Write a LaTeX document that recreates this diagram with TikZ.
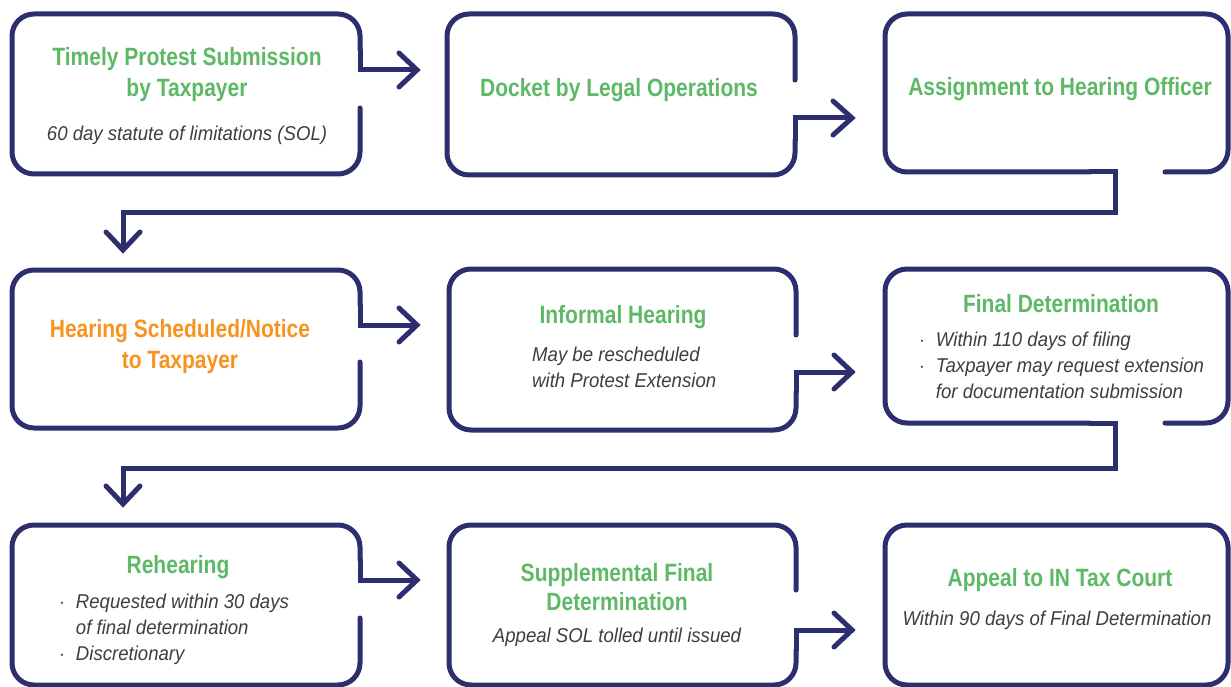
\documentclass[tikz,border=0pt]{standalone}
\usepackage{fontspec}
\setmainfont{Liberation Sans}
\newfontfamily\tfont{Liberation Sans}[FakeStretch=0.84]
\newfontfamily\ifont{Liberation Sans}[FakeStretch=0.93]
\definecolor{navy}{RGB}{44,46,110}
\definecolor{tgreen}{RGB}{94,185,102}
\definecolor{torange}{RGB}{247,148,29}
\definecolor{tgray}{RGB}{62,62,66}
\begin{document}
\begin{tikzpicture}[x=1pt,y=-1pt,
  border/.style={draw=navy, line width=5pt, line cap=round},
  boxline/.style={border, rounded corners=22pt},
  conn/.style={border, sharp corners, line join=miter},
  title/.style={text=tgreen, font=\tfont\bfseries\fontsize{25}{31}\selectfont, align=center, inner sep=0pt},
  note/.style={text=tgray, font=\ifont\itshape\fontsize{20}{26}\selectfont, inner sep=0pt},
]
\useasboundingbox (0,0) rectangle (1231,687);
\clip (0,0) rectangle (1231,687);
\fill[white] (0,0) rectangle (1231,687);

% Row 1
\draw[boxline] (360,108) -- (360,174) -- (12,174) -- (12,14) -- (360,14) -- (360,50);
\coordinate (c1) at (360,50);
\coordinate (a1) at (416,70);
\draw[conn] (c1) |- (a1);
\draw[conn] (399,53) -- (417,70) -- (399,87);

\draw[boxline] (795,80) -- (795,14) -- (447,14) -- (447,175) -- (795,175) -- (795,140);
\coordinate (c2) at (795,140);
\coordinate (a2) at (851,118);
\draw[conn] (c2) |- (a2);
\draw[conn] (833,101) -- (852,118) -- (833,135);

\draw[boxline] (1165,172) -- (1228,172) -- (1228,14) -- (885,14) -- (885,172) -- (1090,172);
\coordinate (c3) at (1090,172);
\coordinate (a3) at (123,249);
\draw[conn] (c3) -- (1115,172) -- (1115,213) -| (a3);
\draw[conn] (106,232) -- (123,250) -- (140,232);

% Row 2
\draw[boxline] (360,362) -- (360,428) -- (12,428) -- (12,270) -- (360,270) -- (360,305);
\coordinate (c4) at (360,305);
\coordinate (a4) at (416,325);
\draw[conn] (c4) |- (a4);
\draw[conn] (399,308) -- (417,325) -- (399,342);

\draw[boxline] (796,335) -- (796,269) -- (449,269) -- (449,430) -- (796,430) -- (796,392);
\coordinate (c5) at (796,392);
\coordinate (a5) at (852,372);
\draw[conn] (c5) |- (a5);
\draw[conn] (834,355) -- (852,372) -- (834,389);

\draw[boxline] (1165,423) -- (1228,423) -- (1228,269) -- (885,269) -- (885,423) -- (1090,423);
\coordinate (c6) at (1090,423);
\coordinate (a6) at (123,503);
\draw[conn] (c6) -- (1115,423) -- (1115,468) -| (a6);
\draw[conn] (106,486) -- (123,504) -- (140,486);

% Row 3
\draw[boxline] (360,618) -- (360,685) -- (12,685) -- (12,525) -- (360,525) -- (360,560);
\coordinate (c7) at (360,560);
\coordinate (a7) at (416,580);
\draw[conn] (c7) |- (a7);
\draw[conn] (399,563) -- (417,580) -- (399,597);

\draw[boxline] (796,590) -- (796,525) -- (449,525) -- (449,685) -- (796,685) -- (796,650);
\coordinate (c8) at (796,650);
\coordinate (a8) at (852,630);
\draw[conn] (c8) |- (a8);
\draw[conn] (834,613) -- (852,630) -- (834,647);

\draw[boxline] (885,525) rectangle (1228,685);

% Texts
\node[title] (t1) at (187,75) {Timely Protest Submission\\by Taxpayer};
\node[note] (n1) at (187,135) {60 day statute of limitations (SOL)};
\node[title] (t2) at (619,90) {Docket by Legal Operations};
\node[title] (t3) at (1060,89) {Assignment to Hearing Officer};

\node[title, text=torange] (t4) at (180,347) {Hearing Scheduled/Notice\\to Taxpayer};
\node[title] (t5) at (623,317) {Informal Hearing};
\node[note, anchor=west, align=left] (n5) at (532,367) {May be rescheduled\\with Protest Extension};
\node[title] (t6) at (1061,304) {Final Determination};
\node[note, anchor=west] (n6) at (919,367) {\begin{tabular}{@{}l@{\hspace{11pt}}l@{}}
$\cdot$ & Within 110 days of filing\\
$\cdot$ & Taxpayer may request extension\\
 & for documentation submission
\end{tabular}};

\node[title] (t7) at (178,567) {Rehearing};
\node[note, anchor=west] (n7) at (59,629) {\begin{tabular}{@{}l@{\hspace{11pt}}l@{}}
$\cdot$ & Requested within 30 days\\
 & of final determination\\
$\cdot$ & Discretionary
\end{tabular}};
\node[title, font=\tfont\bfseries\fontsize{25}{29}\selectfont] (t8) at (617,587) {Supplemental Final\\Determination};
\node[note] (n8) at (617,637) {Appeal SOL tolled until issued};
\node[title] (t9) at (1060,580) {Appeal to IN Tax Court};
\node[note] (n9) at (1057,620) {Within 90 days of Final Determination};
\end{tikzpicture}
\end{document}
